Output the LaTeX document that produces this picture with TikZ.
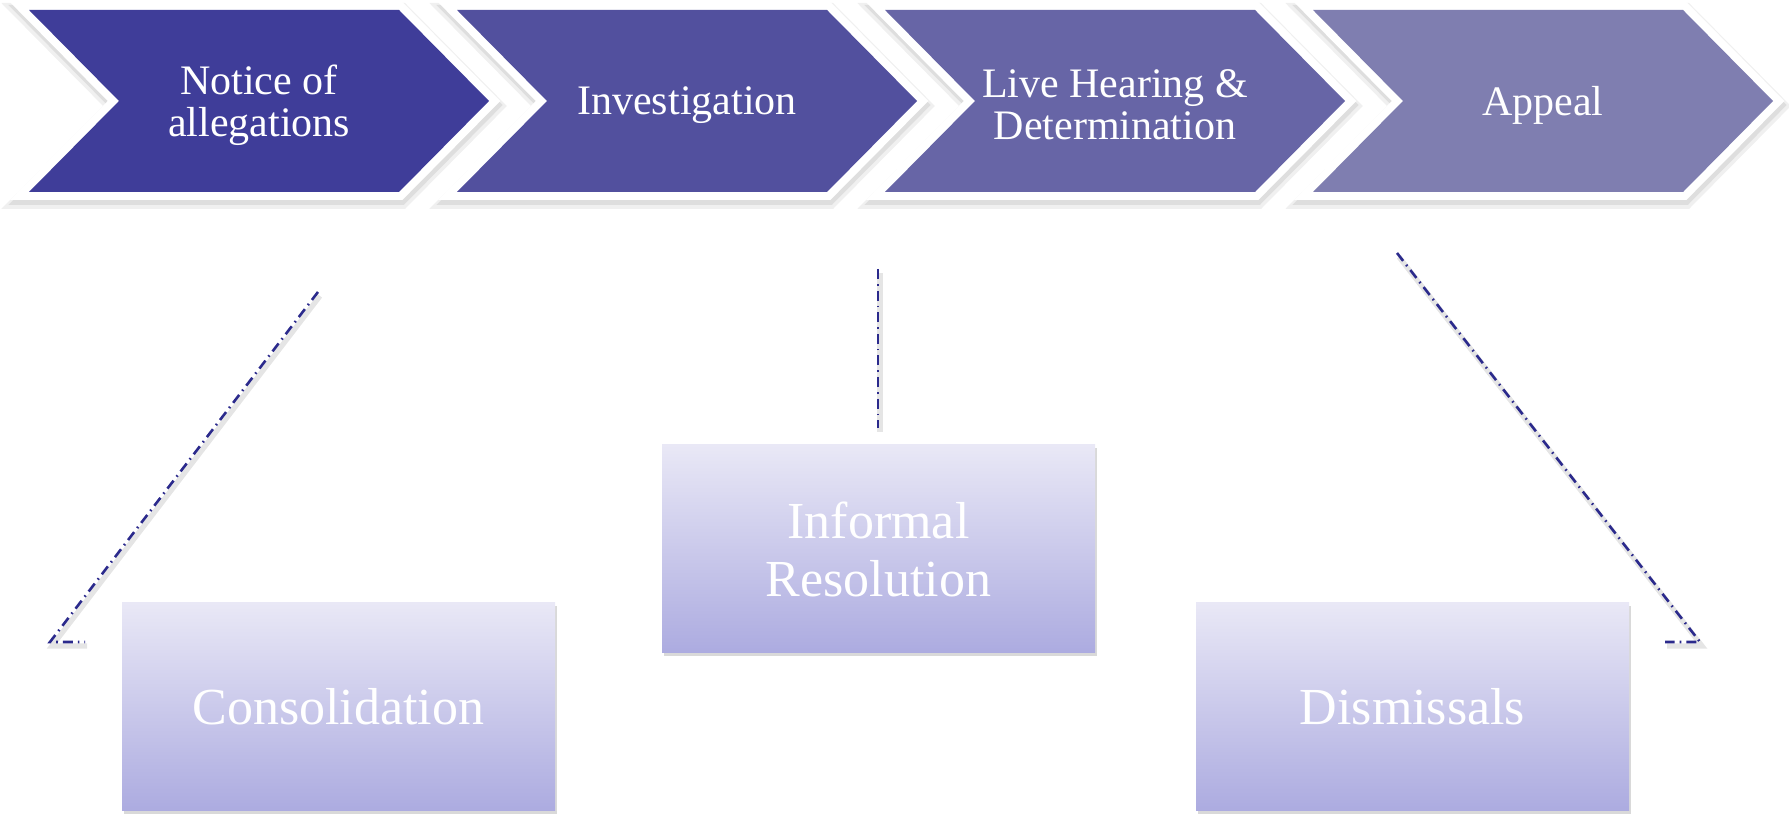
\documentclass[tikz,border=0pt]{standalone}
\usepackage{fontspec}
\setmainfont{Liberation Serif}
\usetikzlibrary{shadows}
\definecolor{chevA}{RGB}{63,61,153}
\definecolor{chevB}{RGB}{82,80,158}
\definecolor{chevC}{RGB}{103,101,166}
\definecolor{chevD}{RGB}{127,126,176}
\definecolor{boxtop}{RGB}{233,232,246}
\definecolor{boxbot}{RGB}{172,171,224}
\definecolor{linkblue}{RGB}{43,42,140}
\tikzset{
  chevshadow/.style={draw=black!#1, fill=black!#1, line join=miter},
  chevedge/.style={draw=white, fill=white, line width=8pt, line join=miter},
  steptext/.style={text=white, align=center, font=\fontsize{21}{21}\selectfont},
  outcome/.style={minimum width=216.5pt, minimum height=104pt, inner sep=0pt,
    top color=boxtop, bottom color=boxbot, text=white, align=center,
    font=\fontsize{26}{29}\selectfont,
    drop shadow={shadow xshift=1pt, shadow yshift=-1.5pt, opacity=.3}},
  link/.style={linkblue, line width=1.3pt, dash pattern=on 5pt off 2.5pt on 0.8pt off 2.5pt,
    preaction={draw=black!10, line width=2.6pt, transform canvas={xshift=1pt, yshift=-2pt}}}
}

\begin{document}
\begin{tikzpicture}[x=0.5pt, y=0.5pt]
    \useasboundingbox (0,0) rectangle (1789,814);
    % the four steps
    \foreach \nm/\col/\txt [count=\i from 0] in {notice/chevA/{Notice of\\allegations},
        invest/chevB/Investigation, hearing/chevC/{Live Hearing \&\\Determination},
        appeal/chevD/Appeal} {
        \pgfmathsetmacro\xa{29+428*\i}
        \path[chevshadow=6, line width=12pt] (\xa+1,799) -- ++(370,0) -- ++(90,-91) -- ++(-90,-91)
            -- ++(-370,0) -- ++(90,91) -- cycle;
        \path[chevshadow=13, line width=9pt] (\xa+1,800) -- ++(370,0) -- ++(90,-91) -- ++(-90,-91)
            -- ++(-370,0) -- ++(90,91) -- cycle;
        \path[chevedge] (\xa,804) -- ++(370,0) -- ++(90,-91) -- ++(-90,-91)
            -- ++(-370,0) -- ++(90,91) -- cycle;
        \fill[\col] (\xa,804) -- ++(370,0) -- ++(90,-91) -- ++(-90,-91)
            -- ++(-370,0) -- ++(90,91) -- cycle;
        \node[steptext] (\nm) at (\xa+230,709) {\txt};
    }
    % the outcomes
    \node[outcome] (cons) at (338.5,107) {Consolidation};
    \node[outcome] (infres) at (878.5,265) {Informal\\Resolution};
    \node[outcome] (dism) at (1412.5,107) {Dismissals};
    % dash-dot links
    \coordinate (consA) at (318,522);
    \coordinate (consB) at (50,172);
    \coordinate (consC) at (85,172);
    \coordinate (infA) at (878,545);
    \coordinate (infB) at (878,386);
    \coordinate (dismA) at (1397,561);
    \coordinate (dismB) at (1700,172);
    \coordinate (dismC) at (1665,172);
    \draw[link] (consA) -- (consB) -- (consC);
    \draw[link] (infA) -- (infB);
    \draw[link] (dismA) -- (dismB) -- (dismC);
\end{tikzpicture}
\end{document}
